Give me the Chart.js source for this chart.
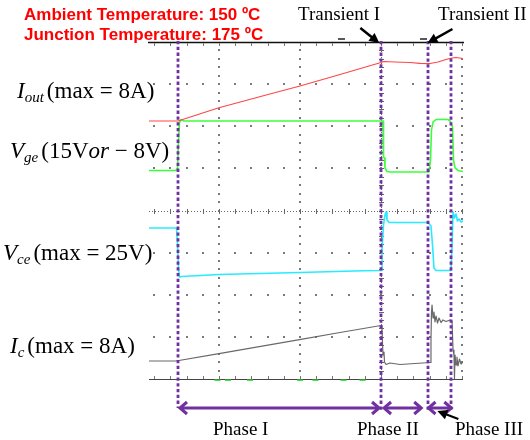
<!DOCTYPE html>
<html><head><meta charset="utf-8">
<script src="https://cdn.jsdelivr.net/npm/chart.js@4/dist/chart.umd.min.js"></script>
<style>
html,body{margin:0;padding:0;background:#fff;}
#wrap{position:relative;width:530px;height:440px;overflow:hidden;background:#fff;}
#c{position:absolute;left:0;top:0;}
.t{position:absolute;white-space:nowrap;line-height:1;}
.serif{font-family:"Liberation Serif","Times New Roman",serif;color:#000;}
.red{font-family:"Liberation Sans",Arial,sans-serif;font-weight:bold;font-size:17px;color:#ff0000;}
.ann{font-size:19px;}
.lbl{font-size:23px;}
.lbl i{font-style:italic;}
.lbl sub{font-size:15px;font-style:italic;vertical-align:-4px;line-height:0;margin-right:3px;}
</style></head>
<body>
<div id="wrap">
<canvas id="c" width="530" height="440"></canvas>
<div class="t red" style="left:24px;top:6px">Ambient Temperature: 150 ºC</div>
<div class="t red" style="left:24px;top:26px">Junction Temperature: 175 ºC</div>
<div class="t serif ann" style="left:298px;top:4px">Transient I</div>
<div class="t serif ann" style="left:438px;top:4px">Transient II</div>
<div class="t serif lbl" style="left:17px;top:79px"><i>I</i><sub>out</sub>(max = 8A)</div>
<div class="t serif lbl" style="left:10px;top:139px"><i>V</i><sub>ge</sub>(15V<i>or</i> − 8V)</div>
<div class="t serif lbl" style="left:3px;top:241px"><i>V</i><sub>ce</sub>(max = 25V)</div>
<div class="t serif lbl" style="left:10px;top:334px"><i>I</i><sub>c</sub>(max = 8A)</div>
<div class="t serif ann" style="left:213px;top:419px">Phase I</div>
<div class="t serif ann" style="left:357px;top:419px">Phase II</div>
<div class="t serif ann" style="left:455px;top:419px">Phase III</div>
</div>
<script>
// ---- data (time and amplitude in oscilloscope divisions) ----
const timeMin = 0.1358, timeMax = 4.0123;
const ampMin = 0, ampMax = 8;
const minorStep = 0.2;
const xMajorTicks = [1, 2, 3, 4];
const yMajorTicks = [1, 2, 3, 4, 5, 6, 7];
const xCenterTick = 3;
const yCenterTick = 4;

const iOutTime = [0.136,0.494,0.988,1.605,2.0,2.494,3.0,3.037,3.173,3.358,3.481,3.605,3.704,3.802,3.877,3.926,4.012];
const iOutDiv  = [6.125,6.125,6.433,6.754,6.955,7.228,7.513,7.537,7.525,7.513,7.494,7.489,7.525,7.585,7.620,7.632,7.608];

const vgeTime = [0.136,0.469,0.488,0.500,0.512,0.531,0.568,3.000,3.025,3.031,3.043,3.049,3.074,3.111,3.593,3.611,3.623,3.642,3.679,3.827,3.852,3.883,3.895,3.914,3.951,4.012];
const vgeDiv  = [4.95,4.95,5.01,5.67,6.08,6.16,6.125,6.125,6.125,5.27,5.245,5.01,4.926,4.914,4.914,5.2,5.91,6.10,6.16,6.16,6.125,5.982,5.199,5.01,4.95,4.926];

const vceTime = [0.136,0.475,0.488,0.500,0.512,0.543,1.0,2.0,2.778,3.006,3.012,3.031,3.049,3.062,3.074,3.099,3.580,3.617,3.636,3.654,3.679,3.864,3.877,3.889,3.907,3.926,3.944,3.963,3.988,4.012];
const vceDiv  = [3.585,3.585,3.181,2.635,2.421,2.433,2.481,2.528,2.571,2.576,3.062,3.656,3.893,3.964,3.774,3.715,3.715,3.632,3.181,2.635,2.576,2.576,3.181,3.964,3.822,3.917,3.751,3.798,3.727,3.751];

const icTime = [0.136,0.469,1.0,2.012,2.494,3.0,3.012,3.019,3.025,3.037,3.043,3.062,3.111,3.235,3.420,3.605,3.617,3.623,3.630,3.642,3.654,3.667,3.679,3.698,3.716,3.741,3.765,3.802,3.852,3.877,3.889,3.901,3.907,3.914,3.926,3.938,3.951,3.969,3.988,4.012];
const icDiv  = [0.427,0.427,0.603,0.940,1.104,1.270,1.258,0.807,0.570,0.641,0.404,0.344,0.380,0.344,0.368,0.392,0.926,1.567,1.757,1.448,1.591,1.353,1.496,1.329,1.448,1.341,1.401,1.365,1.401,1.377,0.688,0.570,0.012,0.570,0.332,0.522,0.309,0.475,0.356,0.404];

const markerTime = [0.981,1.111,1.383,2.0,2.191,2.537,2.772];
const markerDiv  = [-0.03,-0.03,-0.03,-0.03,-0.03,-0.03,-0.03];

const phaseBoundaries = [0.494, 3.004, 3.586, 3.868];
const phaseArrowStart = [0.506, 3.025, 3.574];
const phaseArrowEnd   = [2.988, 3.509, 3.881];
const transientTips   = [3.004, 3.586];
const topMarkers      = [2.512, 3.525];

const pts = (xs, ys) => xs.map((v, i) => ({x: v, y: ys[i]}));

function arrowHead(ctx, x1, y1, x2, y2, len, half) {
  const ang = Math.atan2(y2 - y1, x2 - x1);
  ctx.beginPath();
  ctx.moveTo(x2, y2);
  ctx.lineTo(x2 - len * Math.cos(ang) + half * Math.sin(ang), y2 - len * Math.sin(ang) - half * Math.cos(ang));
  ctx.lineTo(x2 - len * Math.cos(ang) - half * Math.sin(ang), y2 - len * Math.sin(ang) + half * Math.cos(ang));
  ctx.closePath();
  ctx.fill();
}
function solidArrow(ctx, x1, y1, x2, y2, color, lw) {
  const ang = Math.atan2(y2 - y1, x2 - x1);
  ctx.strokeStyle = color; ctx.fillStyle = color; ctx.lineWidth = lw; ctx.setLineDash([]);
  ctx.beginPath();
  ctx.moveTo(x1, y1);
  ctx.lineTo(x2 - 7 * Math.cos(ang), y2 - 7 * Math.sin(ang));
  ctx.stroke();
  arrowHead(ctx, x1, y1, x2, y2, 10, 5);
}

const scopePlugin = {
  id: 'scope',
  beforeDatasetsDraw(chart) {
    const {ctx, chartArea: a, scales: {x, y}} = chart;
    const minorX = [], minorY = [];
    for (let k = Math.ceil(x.min / minorStep - 1e-9); k * minorStep <= x.max + 1e-9; k++) minorX.push(x.getPixelForValue(k * minorStep));
    for (let k = 1; k * minorStep < y.max - 1e-9; k++) minorY.push(y.getPixelForValue(k * minorStep));
    ctx.save();
    ctx.fillStyle = '#7a7a7a';
    const dot = (px, py) => ctx.fillRect(Math.round(px) - 1, Math.round(py) - 1, 2, 2);
    yMajorTicks.forEach(v => {
      if (v === yCenterTick) return;
      const py = y.getPixelForValue(v);
      minorX.forEach(px => dot(px, py));
    });
    xMajorTicks.forEach(v => {
      if (v === xCenterTick) return;
      const px = x.getPixelForValue(v);
      minorY.forEach(py => dot(px, py));
    });
    // center lines with ticks
    ctx.strokeStyle = '#666'; ctx.lineWidth = 1;
    const cy = Math.round(y.getPixelForValue(yCenterTick)) + 0.5;
    ctx.setLineDash([1, 2]);
    ctx.beginPath(); ctx.moveTo(a.left, cy); ctx.lineTo(a.right, cy); ctx.stroke();
    const cx = Math.round(x.getPixelForValue(xCenterTick)) + 0.5;
    ctx.beginPath(); ctx.moveTo(cx, a.top); ctx.lineTo(cx, a.bottom); ctx.stroke();
    ctx.setLineDash([]);
    ctx.beginPath();
    minorX.forEach(px => { const r = Math.round(px) + 0.5; ctx.moveTo(r, cy - 2.5); ctx.lineTo(r, cy + 2.5); });
    minorY.forEach(py => { const r = Math.round(py) + 0.5; ctx.moveTo(cx - 2.5, r); ctx.lineTo(cx + 2.5, r); });
    ctx.stroke();
    // top and bottom border lines with ticks
    ctx.strokeStyle = '#111'; ctx.lineWidth = 1.3;
    ctx.beginPath(); ctx.moveTo(a.left - 1, a.top + 0.5); ctx.lineTo(a.right + 1, a.top + 0.5); ctx.stroke();
    ctx.strokeStyle = '#444'; ctx.lineWidth = 1.2;
    ctx.beginPath(); ctx.moveTo(a.left, a.bottom + 0.5); ctx.lineTo(a.right, a.bottom + 0.5); ctx.stroke();
    ctx.strokeStyle = '#777'; ctx.lineWidth = 1;
    ctx.beginPath();
    minorX.forEach(px => {
      const r = Math.round(px) + 0.5;
      ctx.moveTo(r, a.top + 1); ctx.lineTo(r, a.top + 4);
      ctx.moveTo(r, a.bottom - 3); ctx.lineTo(r, a.bottom);
    });
    ctx.stroke();
    ctx.restore();
  },
  afterDatasetsDraw(chart) {
    const {ctx, chartArea: a, scales: {x}} = chart;
    ctx.save();
    // small trigger markers above top line
    ctx.strokeStyle = '#222'; ctx.lineWidth = 1.5;
    topMarkers.forEach(v => {
      const px = x.getPixelForValue(v);
      ctx.beginPath(); ctx.moveTo(px - 3.5, a.top - 3); ctx.lineTo(px + 3.5, a.top - 3); ctx.stroke();
    });
    // purple dotted phase boundaries
    ctx.strokeStyle = '#7030a0'; ctx.lineWidth = 2.8; ctx.setLineDash([3.3, 2.5]);
    phaseBoundaries.forEach((v, i) => {
      const px = Math.round(x.getPixelForValue(v));
      ctx.beginPath(); ctx.moveTo(px, a.top - 1); ctx.lineTo(px, a.bottom + (i === 0 ? 29 : 31)); ctx.stroke();
    });
    ctx.setLineDash([]);
    // phase double arrows
    const ay = a.bottom + 29;
    ctx.lineWidth = 3; ctx.lineJoin = 'miter'; ctx.lineCap = 'butt';
    phaseArrowStart.forEach((s, i) => {
      const x1 = x.getPixelForValue(s), x2 = x.getPixelForValue(phaseArrowEnd[i]);
      ctx.beginPath(); ctx.moveTo(x1 + 1, ay); ctx.lineTo(x2 - 1, ay); ctx.stroke();
      ctx.beginPath(); ctx.moveTo(x1 + 8, ay - 6); ctx.lineTo(x1 + 1, ay); ctx.lineTo(x1 + 8, ay + 6); ctx.stroke();
      ctx.beginPath(); ctx.moveTo(x2 - 8, ay - 6); ctx.lineTo(x2 - 1, ay); ctx.lineTo(x2 - 8, ay + 6); ctx.stroke();
    });
    // black arrows
    const t1 = x.getPixelForValue(transientTips[0]), t2 = x.getPixelForValue(transientTips[1]);
    solidArrow(ctx, t1 - 21, a.top - 14, t1 - 2, a.top + 1, '#000', 2.5);
    solidArrow(ctx, t2 + 24, a.top - 13, t2 - 1, a.top + 1, '#000', 2.5);
    const p3 = x.getPixelForValue(phaseArrowEnd[2]);
    solidArrow(ctx, p3 + 6, a.bottom + 40, p3 - 15, a.bottom + 32, '#000', 2);
    ctx.restore();
  }
};

new Chart(document.getElementById('c'), {
  type: 'line',
  data: {
    datasets: [
      {label: 'I_out', data: pts(iOutTime, iOutDiv), borderColor: 'rgb(255,70,70)', borderWidth: 1.2},
      {label: 'V_ge', data: pts(vgeTime, vgeDiv), borderColor: 'rgb(60,255,60)', borderWidth: 1.6},
      {label: 'V_ce', data: pts(vceTime, vceDiv), borderColor: 'rgb(40,235,255)', borderWidth: 1.6},
      {label: 'I_c', data: pts(icTime, icDiv), borderColor: 'rgb(105,105,105)', borderWidth: 1.2},
      {label: 'markers', data: pts(markerTime, markerDiv), showLine: false, pointStyle: 'line', pointRadius: 3,
       pointBorderColor: 'rgb(60,230,60)', pointBorderWidth: 1.5, clip: false}
    ]
  },
  options: {
    responsive: false,
    animation: false,
    events: [],
    layout: {padding: {left: 149, right: 67, top: 42, bottom: 61}},
    elements: {point: {radius: 0}, line: {tension: 0, fill: false, borderJoinStyle: 'round'}},
    plugins: {legend: {display: false}, tooltip: {enabled: false}, title: {display: false}},
    scales: {
      x: {type: 'linear', min: timeMin, max: timeMax, display: false},
      y: {type: 'linear', min: ampMin, max: ampMax, display: false}
    }
  },
  plugins: [scopePlugin]
});
</script>
</body></html>
